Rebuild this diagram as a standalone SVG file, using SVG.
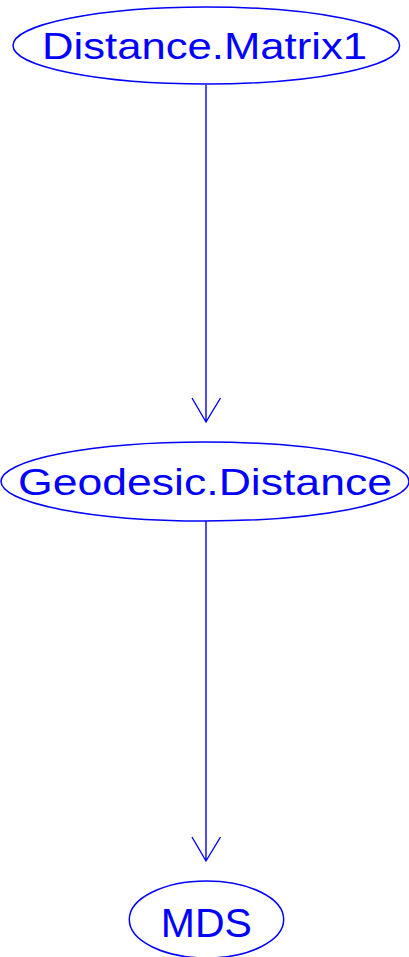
<svg xmlns="http://www.w3.org/2000/svg" width="409" height="957" viewBox="0 0 409 957">
<style>
.node ellipse{fill:none;stroke:#0000ff;stroke-width:1.5}
.node text{fill:#0000ff;font-family:"Liberation Sans",Arial,sans-serif;text-anchor:middle}
.edge{fill:none;stroke:#0000ff;stroke-width:1.4}
</style>
<rect width="409" height="957" fill="#ffffff"/>
<g id="edges">
<path class="edge" d="M206,85 V422 M192,398 L206,422 L220.5,398"/>
<path class="edge" d="M206,521 V861 M192,837 L206,861 L220.5,837"/>
</g>
<g id="Distance.Matrix1" class="node">
<ellipse cx="206.3" cy="45.5" rx="193.3" ry="38.5"/>
<text x="204.5" y="59.3" font-size="37.5" textLength="325" lengthAdjust="spacingAndGlyphs">Distance.Matrix1</text>
</g>
<g id="Geodesic.Distance" class="node">
<ellipse cx="205" cy="481.5" rx="204" ry="39.5"/>
<text x="205" y="494.5" font-size="37.5" textLength="374" lengthAdjust="spacingAndGlyphs">Geodesic.Distance</text>
</g>
<g id="MDS" class="node">
<ellipse cx="206.5" cy="919.5" rx="77.2" ry="38.5"/>
<text x="206.3" y="936.7" font-size="41">MDS</text>
</g>
</svg>
